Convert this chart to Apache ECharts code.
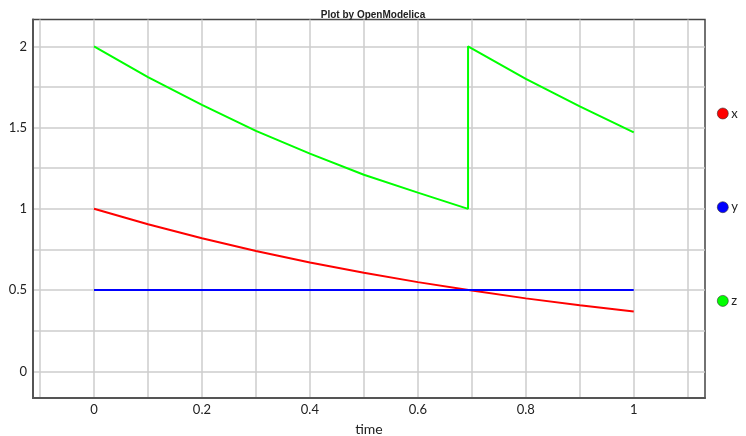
<!DOCTYPE html>
<html>
<head>
<meta charset="utf-8">
<script src="https://cdn.jsdelivr.net/npm/echarts@6/dist/echarts.min.js"></script>
<style>html,body{margin:0;padding:0;background:#fff}#c{width:746px;height:436px}</style>
</head>
<body>
<div id="c"></div>
<script>
// Data
const timeX = [0, 0.1, 0.2, 0.3, 0.4, 0.5, 0.6, 0.7, 0.8, 0.9, 1.0];
const valuesX = [1, 0.905, 0.819, 0.741, 0.670, 0.607, 0.549, 0.497, 0.449, 0.407, 0.368];
const timeY = [0, 1.0];
const valuesY = [0.5, 0.5];
const timeZ = [0, 0.1, 0.2, 0.3, 0.4, 0.5, 0.6, 0.693, 0.693, 0.8, 0.9, 1.0];
const valuesZ = [2, 1.81, 1.64, 1.48, 1.34, 1.21, 1.10, 1.0, 2.0, 1.80, 1.63, 1.47];
const xGridValues = [-0.1, 0, 0.1, 0.2, 0.3, 0.4, 0.5, 0.6, 0.7, 0.8, 0.9, 1.0, 1.1];
const yGridValues = [0, 0.25, 0.5, 0.75, 1, 1.25, 1.5, 1.75, 2];
const xTickLabels = [0, 0.2, 0.4, 0.6, 0.8, 1];
const yTickLabels = [0, 0.5, 1, 1.5, 2];
const seriesNames = ['x', 'y', 'z'];
const seriesColors = ['#ff0000', '#0000ff', '#00ff00'];

const zip = (a, b) => a.map((v, i) => [v, b[i]]);
const chart = echarts.init(document.getElementById('c'), null, {renderer: 'canvas'});

const gridLineStyle = {color: '#cccccc', width: 1.5, type: 'solid', opacity: 1};
const gridMarks = [];
xGridValues.forEach(v => gridMarks.push({xAxis: v}));
yGridValues.forEach(v => gridMarks.push({yAxis: v}));

const font = 'Lato, "Open Sans", sans-serif';

chart.setOption({
  animation: false,
  backgroundColor: '#ffffff',
  title: {
    text: 'Plot by OpenModelica',
    left: 'center',
    top: 5,
    textStyle: {fontSize: 10, fontWeight: 'bold', color: '#222', fontFamily: 'Arial, "Liberation Sans", sans-serif'}
  },
  grid: {left: 33, top: 19.5, right: 41, bottom: 38, outerBoundsMode: 'none', containLabel: false,
         show: true, borderColor: '#444', borderWidth: 1.5, backgroundColor: '#fff'},
  xAxis: {
    type: 'value', min: -0.113, max: 1.132,
    name: 'time', nameLocation: 'middle', nameGap: 24,
    nameTextStyle: {fontSize: 14, color: '#222', fontFamily: font},
    axisLine: {show: true, onZero: false, lineStyle: {color: '#555', width: 2}},
    axisTick: {show: false},
    splitLine: {show: false},
    axisLabel: {customValues: xTickLabels, fontSize: 13, color: '#222', margin: 5, fontFamily: font, formatter: v => String(+v.toFixed(2))}
  },
  yAxis: {
    type: 'value', min: -0.164, max: 2.165,
    axisLine: {show: true, onZero: false, lineStyle: {color: '#555', width: 2}},
    axisTick: {show: false},
    splitLine: {show: false},
    axisLabel: {customValues: yTickLabels, fontSize: 13, color: '#222', margin: 6, fontFamily: font, formatter: v => String(+v.toFixed(2))}
  },
  legend: {
    orient: 'vertical', left: 712, top: 102,
    itemGap: 80.7, itemWidth: 11, itemHeight: 11, icon: 'circle',
    data: seriesNames,
    textStyle: {fontSize: 13, color: '#222', padding: [0, 0, 0, -2], fontFamily: font},
    itemStyle: {borderColor: '#333', borderWidth: 0.6}
  },
  series: [
    {
      name: '__grid', type: 'line', data: [], silent: true, z: 0,
      markLine: {silent: true, z: 0, symbol: 'none', label: {show: false}, lineStyle: gridLineStyle,
                 emphasis: {disabled: true}, animation: false, data: gridMarks}
    },
    {name: seriesNames[0], type: 'line', data: zip(timeX, valuesX), showSymbol: false, color: seriesColors[0], lineStyle: {width: 2}, z: 5},
    {name: seriesNames[1], type: 'line', data: zip(timeY, valuesY), showSymbol: false, color: seriesColors[1], lineStyle: {width: 2}, z: 6},
    {name: seriesNames[2], type: 'line', data: zip(timeZ, valuesZ), showSymbol: false, color: seriesColors[2], lineStyle: {width: 2}, z: 5}
  ]
});
</script>
</body>
</html>
